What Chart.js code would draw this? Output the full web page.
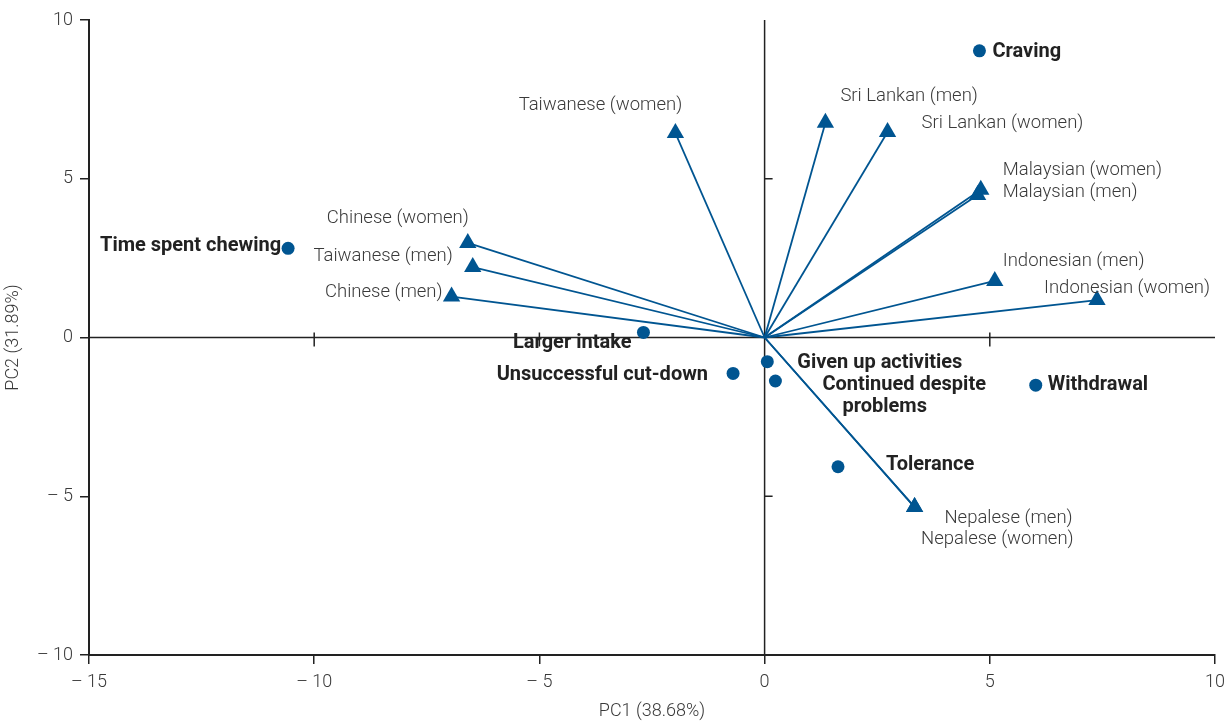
<!DOCTYPE html>
<html>
<head>
<meta charset="utf-8">
<script src="https://cdn.jsdelivr.net/npm/chart.js@4.4.1/dist/chart.umd.min.js"></script>
<style>
  html, body { margin: 0; padding: 0; background: #fff; }
  canvas { display: block; }
</style>
</head>
<body>
<canvas id="c" width="1226" height="722"></canvas>
<script>
// ---- data ----
const groups = ['Taiwanese (women)', 'Sri Lankan (men)', 'Sri Lankan (women)', 'Malaysian (women)', 'Malaysian (men)',
  'Indonesian (men)', 'Indonesian (women)', 'Nepalese (men)', 'Nepalese (women)', 'Chinese (women)', 'Taiwanese (men)', 'Chinese (men)'];
const groupPC1 = [-1.98, 1.35, 2.73, 4.80, 4.73, 5.11, 7.38, 3.33, 3.33, -6.59, -6.48, -6.95];
const groupPC2 = [6.44, 6.76, 6.47, 4.65, 4.49, 1.78, 1.18, -5.34, -5.34, 2.98, 2.22, 1.29];

const symptoms = ['Craving', 'Time spent chewing', 'Larger intake', 'Unsuccessful cut-down', 'Given up activities',
  'Continued despite problems', 'Withdrawal', 'Tolerance'];
const symptomPC1 = [4.77, -10.58, -2.69, -0.70, 0.06, 0.24, 6.02, 1.63];
const symptomPC2 = [9.03, 2.81, 0.16, -1.13, -0.76, -1.37, -1.50, -4.07];

const xTicks = [-15, -10, -5, 0, 5, 10];
const yTicks = [-10, -5, 0, 5, 10];
const xTitle = 'PC1 (38.68%)';
const yTitle = 'PC2 (31.89%)';

// ---- label layout (pixel offsets from the mark) ----
const groupLabelLayout = {
  'Taiwanese (women)': { dx: -75, dy: -28, align: 'center' },
  'Sri Lankan (men)': { dx: 15, dy: -26, align: 'left' },
  'Sri Lankan (women)': { dx: 34, dy: -9, align: 'left' },
  'Malaysian (women)': { dx: 22, dy: -19, align: 'left' },
  'Malaysian (men)': { dx: 25, dy: -3, align: 'left' },
  'Indonesian (men)': { dx: 8, dy: -20, align: 'left' },
  'Indonesian (women)': { dx: -53, dy: -12, align: 'left' },
  'Nepalese (men)': { dx: 158, dy: 11, align: 'right' },
  'Nepalese (women)': { dx: 159, dy: 32, align: 'right' },
  'Chinese (women)': { dx: 1, dy: -25, align: 'right' },
  'Taiwanese (men)': { dx: -20, dy: -11, align: 'right' },
  'Chinese (men)': { dx: -9, dy: -4, align: 'right' }
};
const symptomLabelLayout = {
  'Craving': [{ text: 'Craving', dx: 13, dy: 1, align: 'left' }],
  'Time spent chewing': [{ text: 'Time spent chewing', dx: -7, dy: -2, align: 'right' }],
  'Larger intake': [{ text: 'Larger intake', dx: -12, dy: 11, align: 'right' }],
  'Unsuccessful cut-down': [{ text: 'Unsuccessful cut-down', dx: -25, dy: 2, align: 'right' }],
  'Given up activities': [{ text: 'Given up activities', dx: 30, dy: 1, align: 'left' }],
  'Continued despite problems': [
    { text: 'Continued despite', dx: 47, dy: 4, align: 'left' },
    { text: 'problems', dx: 67, dy: 26, align: 'left' }
  ],
  'Withdrawal': [{ text: 'Withdrawal', dx: 12, dy: 0, align: 'left' }],
  'Tolerance': [{ text: 'Tolerance', dx: 48, dy: -2, align: 'left' }]
};

const BLUE = '#005591';
const AXIS = '#222222';
const TEXT = '#3a3a3a';
const FONT = 'Roboto, "Open Sans", sans-serif';

// ---- datasets ----
const datasets = [];
groups.forEach((g, i) => {
  datasets.push({
    label: g,
    data: [{ x: 0, y: 0 }, { x: groupPC1[i], y: groupPC2[i] }],
    showLine: true,
    borderColor: BLUE,
    borderWidth: 1.8,
    pointStyle: 'triangle',
    pointRadius: [0, 10],
    pointBackgroundColor: BLUE,
    pointBorderColor: BLUE,
    pointBorderWidth: 0,
    pointHoverRadius: [0, 10]
  });
});
datasets.push({
  label: 'Symptoms',
  data: symptoms.map((s, i) => ({ x: symptomPC1[i], y: symptomPC2[i] })),
  showLine: false,
  pointStyle: 'circle',
  pointRadius: 6.5,
  pointBackgroundColor: BLUE,
  pointBorderColor: BLUE,
  pointBorderWidth: 0
});

const fmt = v => (v < 0 ? '\u2013 ' + Math.abs(v) : String(v));

const centerLines = {
  id: 'centerLines',
  beforeDatasetsDraw(chart) {
    const { ctx, chartArea: a, scales: { x, y } } = chart;
    const x0 = x.getPixelForValue(0), y0 = y.getPixelForValue(0);
    ctx.save();
    ctx.strokeStyle = AXIS;
    ctx.lineWidth = 1.5;
    ctx.beginPath();
    ctx.moveTo(a.left, y0); ctx.lineTo(a.right, y0);
    ctx.moveTo(x0, a.top); ctx.lineTo(x0, a.bottom);
    xTicks.filter(v => v !== 0 && v !== xTicks[0] && v !== xTicks[xTicks.length - 1]).forEach(v => {
      const px = x.getPixelForValue(v);
      ctx.moveTo(px, y0 - 5); ctx.lineTo(px, y0 + 9);
    });
    yTicks.filter(v => v !== 0 && v !== yTicks[0] && v !== yTicks[yTicks.length - 1]).forEach(v => {
      const py = y.getPixelForValue(v);
      ctx.moveTo(x0, py); ctx.lineTo(x0 + 8, py);
    });
    ctx.stroke();
    ctx.restore();
  }
};

const labels = {
  id: 'labels',
  afterDatasetsDraw(chart) {
    const { ctx, scales: { x, y } } = chart;
    ctx.save();
    ctx.textBaseline = 'middle';
    ctx.font = '300 18.5px ' + FONT;
    ctx.fillStyle = TEXT;
    groups.forEach((g, i) => {
      const L = groupLabelLayout[g];
      const px = x.getPixelForValue(groupPC1[i]), py = y.getPixelForValue(groupPC2[i]);
      ctx.textAlign = L.align;
      ctx.fillText(g, px + L.dx, py + L.dy);
    });
    ctx.font = 'bold 20px ' + FONT;
    ctx.fillStyle = '#222';
    symptoms.forEach((s, i) => {
      const px = x.getPixelForValue(symptomPC1[i]), py = y.getPixelForValue(symptomPC2[i]);
      symptomLabelLayout[s].forEach(L => {
        ctx.textAlign = L.align;
        ctx.fillText(L.text, px + L.dx, py + L.dy);
      });
    });
    ctx.restore();
  }
};

const tickFont = { family: FONT, size: 18, weight: '300' };
const titleFont = { family: FONT, size: 18, weight: '300' };

new Chart(document.getElementById('c'), {
  type: 'scatter',
  data: { datasets },
  options: {
    responsive: false,
    animation: false,
    events: [],
    layout: { padding: { left: 0, right: 11, top: 20, bottom: 0 } },
    plugins: { legend: { display: false }, tooltip: { enabled: false } },
    scales: {
      x: {
        type: 'linear', min: xTicks[0], max: xTicks[xTicks.length - 1],
        afterBuildTicks: s => { s.ticks = xTicks.map(v => ({ value: v })); },
        afterFit: s => { s.height = 67; s.paddingLeft = 0; s.paddingRight = 0; },
        ticks: { callback: fmt, font: tickFont, color: TEXT, padding: 8, maxRotation: 0 },
        grid: { display: true, drawOnChartArea: false, drawTicks: true, tickLength: 9, color: AXIS, lineWidth: 1.5 },
        border: { display: true, color: AXIS, width: 2 },
        title: { display: true, text: xTitle, font: titleFont, color: TEXT, padding: { top: 0, bottom: 0 } }
      },
      y: {
        type: 'linear', min: yTicks[0], max: yTicks[yTicks.length - 1],
        afterBuildTicks: s => { s.ticks = yTicks.map(v => ({ value: v })); },
        afterFit: s => { s.width = 89; s.paddingTop = 0; s.paddingBottom = 0; },
        ticks: { callback: fmt, font: tickFont, color: TEXT, padding: 7 },
        grid: { display: true, drawOnChartArea: false, drawTicks: true, tickLength: 9, color: AXIS, lineWidth: 1.5 },
        border: { display: true, color: AXIS, width: 2 },
        title: { display: true, text: yTitle, font: titleFont, color: TEXT, padding: { top: 3, bottom: 0 } }
      }
    }
  },
  plugins: [centerLines, labels]
});
</script>
</body>
</html>
